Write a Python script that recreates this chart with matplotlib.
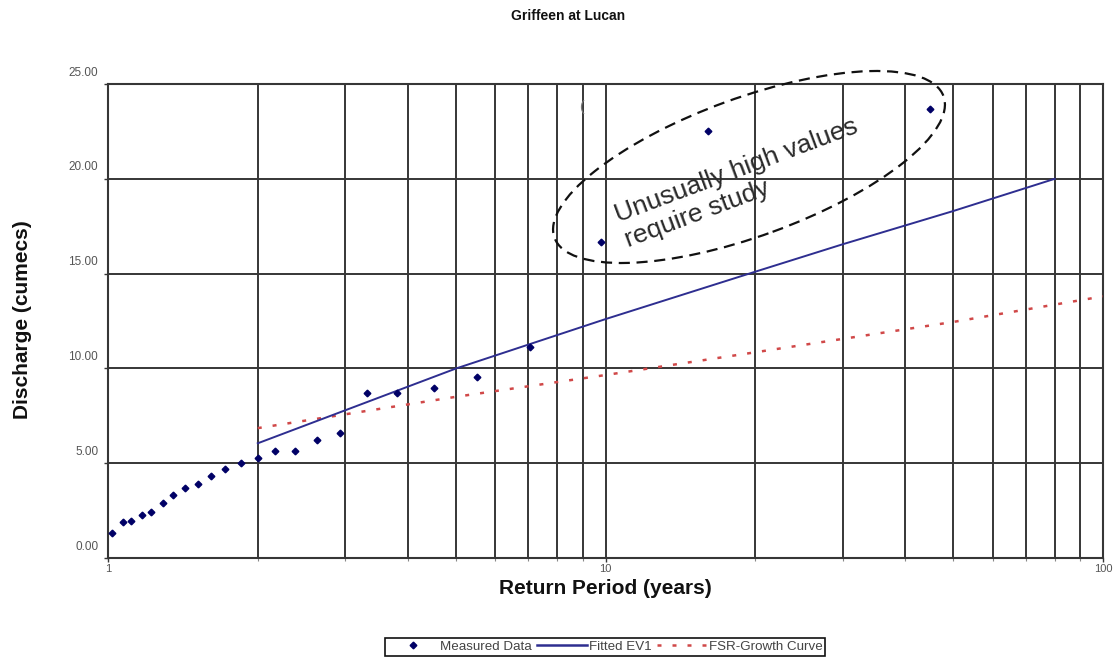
import matplotlib
matplotlib.use("Agg")
import matplotlib.pyplot as plt
import matplotlib.transforms as mtransforms
from matplotlib.patches import Ellipse
from matplotlib.lines import Line2D
from matplotlib.ticker import LogLocator, FixedLocator, NullFormatter, FixedFormatter

plt.rcParams['font.family'] = ['Liberation Sans', 'DejaVu Sans']

# ---------------- data ----------------
measured_T = [44.86, 16.10, 9.81, 7.06, 5.51, 4.52, 3.81, 3.32, 2.93, 2.63,
              2.38, 2.17, 2.00, 1.85, 1.72, 1.61, 1.52, 1.43, 1.35, 1.29,
              1.22, 1.17, 1.11, 1.07, 1.02]
measured_Q = [23.7, 22.5, 16.67, 11.13, 9.55, 8.95, 8.72, 8.69, 6.58, 6.22,
              5.64, 5.64, 5.29, 5.03, 4.69, 4.32, 3.89, 3.71, 3.32, 2.92,
              2.41, 2.27, 1.97, 1.91, 1.33]

ev1_T = [2, 5, 10, 20, 30, 50, 80]
ev1_Q = [6.05, 9.99, 12.6, 15.1, 16.55, 18.3, 20.0]

fsr_T = [2, 5, 10, 20, 50, 100]
fsr_Q = [6.85, 8.5, 9.65, 10.85, 12.45, 13.8]

y_ticks = [0, 5, 10, 15, 20, 25]
y_tick_labels = ["0.00", "5.00", "10.00", "15.00", "20.00", "25.00"]
x_ticks = [1, 10, 100]
x_tick_labels = ["1", "10", "100"]

title = "Griffeen at Lucan"
xlabel = "Return Period (years)"
ylabel = "Discharge (cumecs)"
note_lines = ["Unusually high values", "require study"]
legend_labels = ["Measured Data", "Fitted EV1", "FSR-Growth Curve"]

# ---------------- figure ----------------
W, H = 1116, 661
fig = plt.figure(figsize=(W / 100, H / 100), dpi=100)
fig.patch.set_facecolor("white")
ax = fig.add_axes([108 / W, 103 / H, (1103 - 108) / W, (558 - 84) / H])

grid_c = "#363636"
navy = "#000066"
blue = "#2e2e90"
red = "#d04848"

ax.set_xscale("log")
ax.set_xlim(1, 100)
ax.set_ylim(0, 25)

ax.xaxis.set_major_locator(FixedLocator(x_ticks))
ax.xaxis.set_major_formatter(FixedFormatter(x_tick_labels))
ax.xaxis.set_minor_locator(LogLocator(base=10, subs=[2, 3, 4, 5, 6, 7, 8, 9]))
ax.xaxis.set_minor_formatter(NullFormatter())
ax.yaxis.set_major_locator(FixedLocator(y_ticks))
ax.yaxis.set_major_formatter(FixedFormatter(y_tick_labels))

ax.grid(True, which="both", axis="x", color=grid_c, lw=1.4)
ax.grid(True, which="major", axis="y", color=grid_c, lw=1.4)
ax.set_axisbelow(True)
for s in ax.spines.values():
    s.set_color(grid_c)
    s.set_linewidth(1.5)

ax.tick_params(axis="y", which="major", length=3, width=1, color=grid_c,
               pad=4, labelsize=8.5, labelcolor="#555555")
ax.tick_params(axis="x", which="major", length=3, width=1, color=grid_c,
               pad=1, labelsize=8, labelcolor="#555555")
ax.tick_params(axis="x", which="minor", length=2, width=0.8, color="#888888")

# shift y tick labels upward (as in reference)
off = mtransforms.ScaledTranslation(0, 13 / 100, fig.dpi_scale_trans)
for lab in ax.get_yticklabels():
    lab.set_transform(lab.get_transform() + off)

# series
ax.plot(fsr_T, fsr_Q, color=red, lw=1.8, dashes=(1.6, 4.4), zorder=3)
ax.plot(ev1_T, ev1_Q, color=blue, lw=1.4, zorder=4)
ax.plot(measured_T, measured_Q, ls="none", marker="D", ms=3.4,
        color=navy, mec=navy, zorder=5)

# annotation ellipse (inch coordinates)
ell = Ellipse((749 / 100, (H - 167) / 100), 414 / 100, 138 / 100, angle=20,
              transform=fig.dpi_scale_trans, fill=False, ec="#111111",
              lw=1.6, ls=(0, (5, 3)), zorder=6)
fig.add_artist(ell)

fig.text(618 / W, 1 - 222 / H, note_lines[0], rotation=20.5,
         rotation_mode="anchor", ha="left", va="baseline",
         fontsize=19, color="#2a2a2a")
fig.text(628 / W, 1 - 247 / H, note_lines[1], rotation=20.5,
         rotation_mode="anchor", ha="left", va="baseline",
         fontsize=19, color="#2a2a2a")
fig.text(582 / W, 1 - 107 / H, "(", fontsize=10, color="#777777",
         ha="center", va="center")

# labels
fig.text(568 / W, 1 - 16 / H, title, ha="center", va="center",
         fontsize=10, fontweight="bold", color="#111111")
fig.text(605 / W, 1 - 588 / H, xlabel, ha="center", va="center",
         fontsize=15, fontweight="bold", color="#111111")
fig.text(22.5 / W, 1 - 320 / H, ylabel, ha="center", va="center",
         rotation=90, fontsize=15, fontweight="bold", color="#111111")

# legend
handles = [
    Line2D([], [], ls="none", marker="D", ms=3.4, color=navy),
    Line2D([], [], color=blue, lw=1.8),
    Line2D([], [], color=red, lw=1.8, dashes=(1.6, 4.4)),
]
leg = fig.legend(handles, legend_labels, loc="upper center",
                 bbox_to_anchor=(605 / W, 1 - 638 / H), ncol=3,
                 fontsize=9.6, frameon=True, fancybox=False,
                 edgecolor="#111111", framealpha=1, handlelength=3.8,
                 handletextpad=0.1, columnspacing=0.4, borderpad=0.2,
                 borderaxespad=0)
leg.get_frame().set_linewidth(1.2)
for t in leg.get_texts():
    t.set_color("#444444")

fig.savefig("out.png", dpi=100, facecolor="white")
